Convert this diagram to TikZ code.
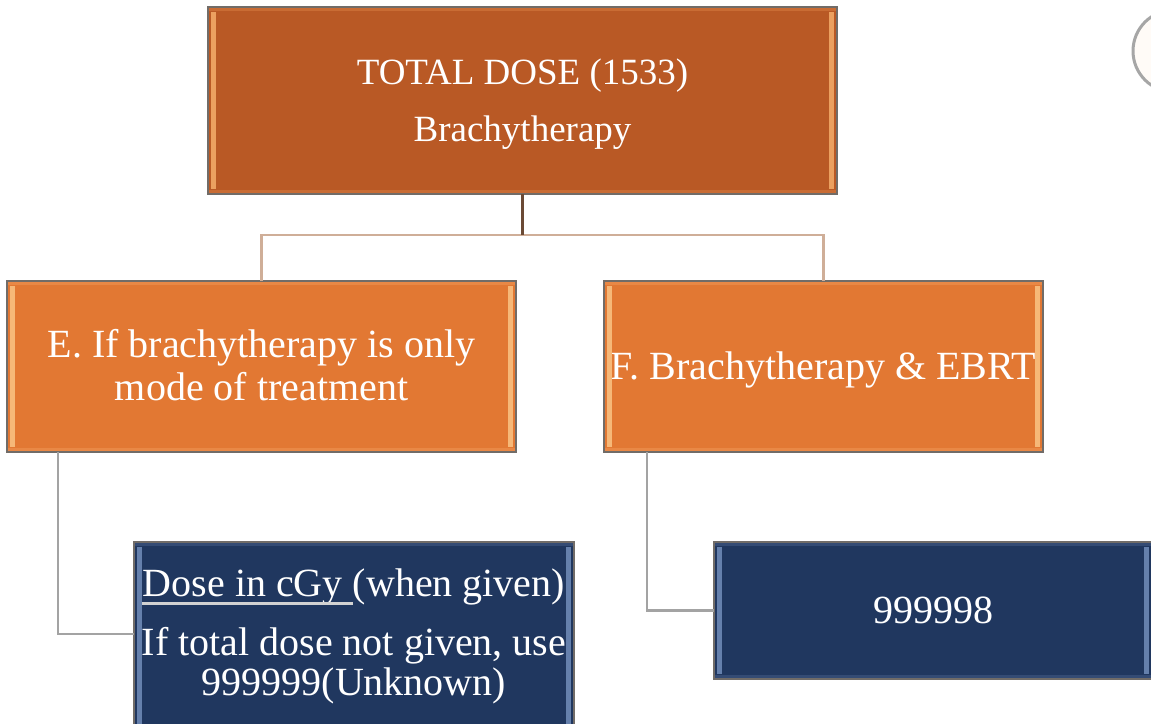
\documentclass[tikz,border=0pt]{standalone}
\usepackage{fontspec}
\usetikzlibrary{calc}
\setmainfont{Liberation Serif}
\definecolor{rust}{HTML}{B95925}
\definecolor{rustedge}{HTML}{C96C34}
\definecolor{rustlight}{HTML}{EBA060}
\definecolor{orng}{HTML}{E27833}
\definecolor{orngedge}{HTML}{E98845}
\definecolor{ornglight}{HTML}{F6B878}
\definecolor{navy}{HTML}{20375F}
\definecolor{navyedge}{HTML}{344B74}
\definecolor{navylight}{HTML}{6580AC}
\definecolor{rimgray}{HTML}{716C68}
\definecolor{linkgray}{HTML}{A3A3A3}
\definecolor{linktan}{HTML}{CFAE98}
\definecolor{stembrown}{HTML}{6B4A35}
\tikzset{
  x=1pt,y=-1pt,
  box/.style={draw=rimgray,line width=2.6pt,inner sep=0pt,outer sep=0pt,anchor=north west,
    text=white,align=center,font=\fontsize{40}{46}\selectfont},
  topbox/.style={box,fill=rust,font=\fontsize{37}{42}\selectfont},
  midbox/.style={box,fill=orng},
  lowbox/.style={box,fill=navy},
  linkstem/.style={draw=stembrown,line width=2.4pt},
  linkbranch/.style={draw=linktan,line width=2.2pt},
  linkside/.style={draw=linkgray,line width=2.2pt},
}
\newcommand{\bevel}[3]{%
  \fill[#2] ([xshift=1pt,yshift=-1pt]#1.north west) rectangle ([xshift=-1pt,yshift=-4pt]#1.north east);
  \fill[#2] ([xshift=1pt,yshift=1pt]#1.south west) rectangle ([xshift=-1pt,yshift=4pt]#1.south east);
  \fill[#3] ([xshift=3pt,yshift=-5pt]#1.north west) rectangle ([xshift=8pt,yshift=5pt]#1.south west);
  \fill[#3] ([xshift=-3pt,yshift=-5pt]#1.north east) rectangle ([xshift=-8pt,yshift=5pt]#1.south east);
}
\begin{document}
\begin{tikzpicture}
\useasboundingbox (0,0) rectangle (1151,723);
\clip (0,0) rectangle (1151,723);
\fill[white] (0,0) rectangle (1151,723);
\fill[orange!3] (1174,51) circle[radius=41];
\draw[gray!70,line width=3pt] (1174,51) circle[radius=41];
\node[topbox,minimum width=629pt,minimum height=187pt] (top) at (208,7)
  {\rule{0pt}{32pt}TOTAL DOSE (1533)\\[15pt]Brachytherapy};
\node[midbox,minimum width=509pt,minimum height=171pt] (e) at (7,281)
  {E. If brachytherapy is only\\[-3pt]mode of treatment\\[-42pt]\mbox{}};
\node[midbox,minimum width=439pt,minimum height=171pt] (f) at (604,281)
  {\rule{0pt}{34pt}F. Brachytherapy \& EBRT};
\node[lowbox,minimum width=440pt,minimum height=189pt] (dose) at (134,542)
  {Dose in cGy (when given)\\[13pt]If total dose not given, use\\[-6pt]999999(Unknown)};
\node[lowbox,minimum width=438pt,minimum height=137pt] (ebrt) at (714,542)
  {999998};
\coordinate (bus) at ($(top.south)+(0,41)$);
\coordinate (doselink) at (134,634);
\draw[linkbranch] (e.north) |- (bus) -| (f.north);
\draw[linkstem] (top.south) -- (bus);
\draw[linkside] ([xshift=51pt]e.south west) |- (doselink);
\draw[linkside] ([xshift=43pt]f.south west) |- (ebrt.west);
\bevel{top}{rustedge}{rustlight}
\bevel{e}{orngedge}{ornglight}
\bevel{f}{orngedge}{ornglight}
\bevel{dose}{navyedge}{navylight}
\bevel{ebrt}{navyedge}{navylight}
\fill[gray!35!white] (142,602) rectangle (353,605);
\end{tikzpicture}
\end{document}
